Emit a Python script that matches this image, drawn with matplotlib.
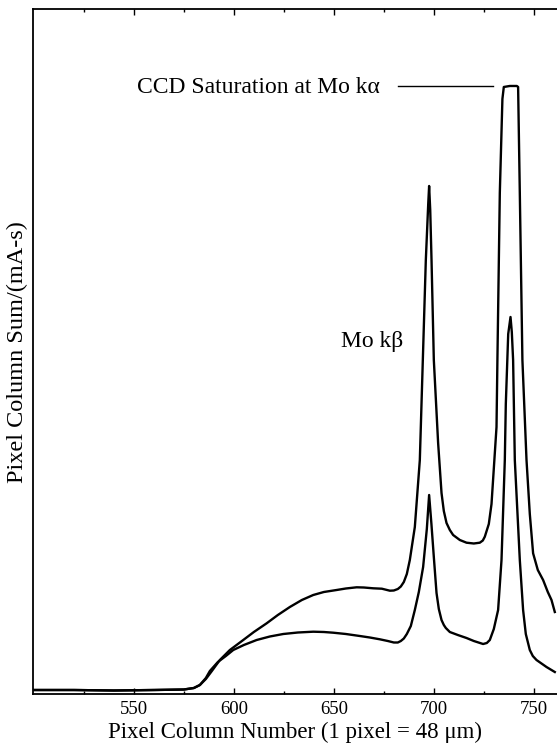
import numpy as np
import matplotlib
matplotlib.use("Agg")
import matplotlib.pyplot as plt

plt.rcParams['font.family'] = ['Liberation Serif', 'DejaVu Serif']

# Pixel column numbers and column sums (arbitrary units)
# longer exposure: Mo k-alpha saturates the CCD
sat_x = [500, 520, 540, 560, 575, 580, 583, 586, 589, 593, 598, 604.7, 610,
         616.4, 622, 628, 634, 639.7, 645, 651.4, 656, 661.4, 665, 669.7, 674,
         678, 680, 682, 683.5, 685, 686.5, 688, 690.5, 693, 694.5, 696, 697.2,
         697.65, 698.2, 698.85, 700, 702.15, 703.85, 705, 706.35, 708, 709.65,
         713, 716.35, 720, 723, 724.5, 725.5, 727.5, 728.85, 731.35, 731.8, 733,
         734.3, 735, 738, 741.5, 742.15, 743, 744.3, 746.35, 748, 749.65, 752,
         754.65, 757, 758.85, 760.5]
sat_y = [14, 14, 13.5, 14, 14.5, 16, 19, 25, 33, 44, 54, 64, 72,
         80.7, 89, 97, 104, 109, 112, 114, 115.5, 116.7, 116.5, 115.7, 115.3,
         113.3, 113.5, 115, 117.5, 122, 130, 144, 177, 244, 344, 444, 500,
         518, 494, 444, 344, 261, 211, 193, 181, 174, 169,
         164, 161.3, 160.5, 161.3, 163.5, 167.3, 180, 200, 277, 344, 511,
         605, 617, 618, 618, 617, 511, 344, 244, 190, 150.7, 134,
         124, 112, 104, 92]

# shorter exposure: both lines resolved
low_x = [500, 520, 540, 560, 575, 580, 583, 586, 588, 592, 596, 599.7, 605,
         611.4, 618, 624.7, 632, 639.7, 645, 649.7, 656, 663, 668, 673, 677,
         680, 682, 683.5, 685, 686.5, 688.5, 690.5, 692.5, 694.65, 696.5,
         697.65, 698.8, 700, 701.35, 702.5, 703.85, 705, 706, 708, 712, 716.35,
         720, 724.65, 726.5, 728, 730, 732.15, 733.85, 735.5, 736, 737.2,
         738.35, 739, 739.65, 740.5, 743, 744.65, 746, 748, 749.5, 751.35,
         756.35, 760.5]
low_y = [14, 14, 13.5, 14, 14.5, 16, 19, 26, 33, 42, 48, 54, 59,
         64, 67.5, 70, 71.5, 72.3, 72, 71.3, 70, 68, 66.5, 64.7, 63,
         61.5, 61.5, 63, 65.5, 70, 78, 94, 112, 137, 175,
         209, 180, 147, 111, 95, 84, 79, 76, 72, 69, 66,
         63, 60, 61, 64, 75, 94, 144, 244, 300, 370,
         387, 372, 344, 244, 144, 94, 70, 54, 48, 44,
         37, 32]

sat_level = 617.5
xticks_major = [550, 600, 650, 700, 750]
xticks_minor = [525, 575, 625, 675, 725]

fig = plt.figure(figsize=(5.57, 7.46), dpi=100)
ax = fig.add_axes([0.0587, 0.0697, 0.9413, 0.9176])

ax.plot(sat_x, sat_y, color='black', lw=1.7, solid_joinstyle='round')
ax.plot(low_x, low_y, color='black', lw=1.7, solid_joinstyle='round')

# annotations
ax.text(673, 611, 'CCD Saturation at Mo k\u03b1', fontsize=17, ha='right',
        va='baseline')
ax.plot([682.2, 729.6], [sat_level, sat_level], color='black', lw=1.0)
ax.text(653.8, 357, 'Mo k\u03b2', fontsize=17, ha='left', va='baseline')

ax.set_xlim(499.4, 761.6)
ax.set_ylim(10, 694.5)

ax.set_xticks(xticks_major)
ax.set_xticks(xticks_minor, minor=True)
ax.tick_params(axis='x', which='both', direction='in', top=True,
               labelsize=13.5, pad=5, width=1.0)
ax.tick_params(axis='x', which='major', length=4.5)
ax.tick_params(axis='x', which='minor', length=2.5)
ax.tick_params(axis='y', which='both', left=False, labelleft=False)

for s in ['left', 'bottom', 'top']:
    ax.spines[s].set_linewidth(1.3)
ax.spines['right'].set_visible(False)

ax.set_xlabel('Pixel Column Number (1 pixel = 48 \u03bcm)', fontsize=16.5,
              labelpad=3)
ax.set_ylabel('Pixel Column Sum/(mA-s)', fontsize=17.5, labelpad=3)

fig.savefig('out.png', dpi=100)
